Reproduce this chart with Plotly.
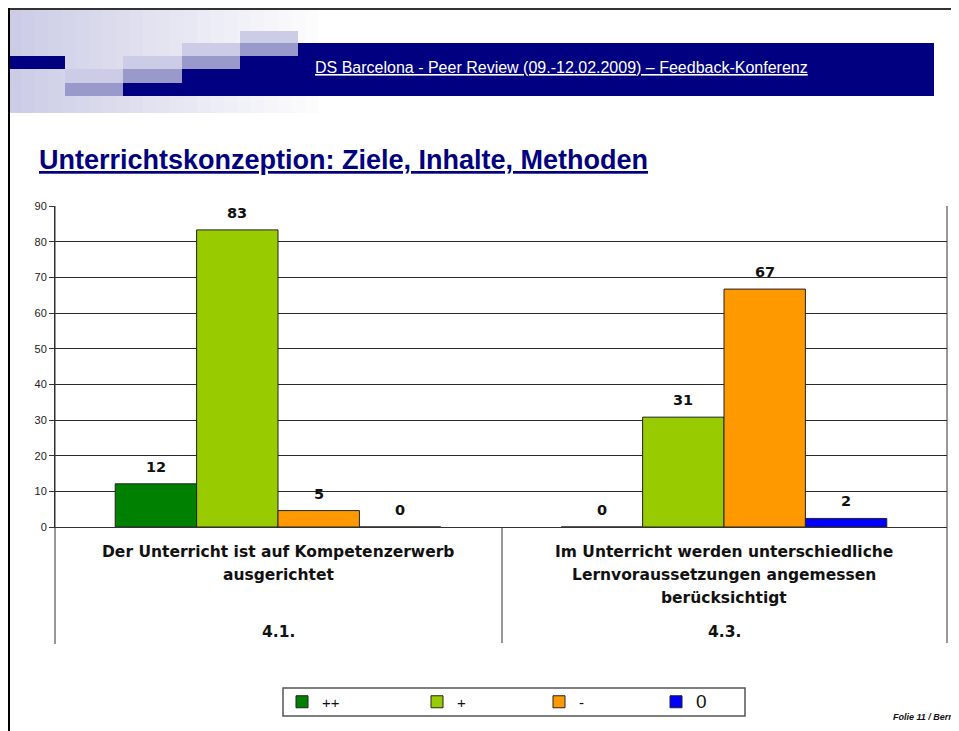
import plotly.graph_objects as go

# ---------------- data ----------------
category_codes = ["4.1.", "4.3."]
category_lines = [
    ["Der Unterricht ist auf Kompetenzerwerb", "ausgerichtet"],
    ["Im Unterricht werden unterschiedliche", "Lernvoraussetzungen angemessen", "berücksichtigt"],
]
series_names = ["++", "+", "-", "0"]
values_pp = [12.1, 0.0]
values_p = [83.3, 30.8]
values_m = [4.6, 66.7]
values_0 = [0.0, 2.4]
y_ticks = [0, 10, 20, 30, 40, 50, 60, 70, 80, 90]

header_text = "DS Barcelona - Peer Review (09.-12.02.2009) – Feedback-Konferenz"
title_text = "Unterrichtskonzeption: Ziele, Inhalte, Methoden"
footer_text = "Folie 11 / Bern"

# ---------------- style ----------------
series_values = [values_pp, values_p, values_m, values_0]
series_colors = ["#008000", "#99CC00", "#FF9900", "#0000FF"]
legend_widths = [90, 77, 72, 60]
OFF = 8                      # page body margin of the html page
W, H = 959 - OFF, 731 - OFF
ML, MR = 55 - OFF, 12
MT = 206 - OFF
MB = H - (527 - OFF)
PW, PH = W - ML - MR, H - MT - MB
BARGAP = 0.27
NAVY = "#000080"
LIGHT = "#CCCCE6"
MED = "#9999CC"
LBL_FONT = "DejaVu Sans"


def px(x):
    """page x (reference pixels) -> paper fraction"""
    return (x - OFF - ML) / PW


def py(y):
    """page y (reference pixels) -> paper fraction"""
    return (H - MB - (y - OFF)) / PH


fig = go.Figure()
for name, vals, col, lw in zip(series_names, series_values, series_colors, legend_widths):
    legend_name = name if name != "0" else "<span style='font-size:19px'>0</span>"
    fig.add_trace(go.Bar(
        x=list(range(len(category_codes))), y=vals, name=legend_name,
        marker=dict(color=col, line=dict(color="#222222", width=1)),
        legendwidth=lw, hoverinfo="skip",
    ))

annotations = []
# value labels above bars
n = len(series_values)
bw = (1 - BARGAP) / n
for i, vals in enumerate(series_values):
    for j, v in enumerate(vals):
        annotations.append(dict(
            x=j - (1 - BARGAP) / 2 + bw * (i + 0.5), y=v, xref="x", yref="y",
            text=f"<b>{v:.0f}</b>", showarrow=False, yshift=17, yanchor="middle",
            xanchor="center",
            font=dict(family=LBL_FONT, size=14.5, color="#111111"),
        ))
# category labels
for j, (lines, code) in enumerate(zip(category_lines, category_codes)):
    for k, line in enumerate(lines):
        annotations.append(dict(
            x=j, y=0, xref="x", yref="paper", yshift=-(25 + 23 * k), yanchor="middle",
            xanchor="center", text=f"<b>{line}</b>", showarrow=False,
            font=dict(family=LBL_FONT, size=15.5, color="#111111"),
        ))
    annotations.append(dict(
        x=j, y=0, xref="x", yref="paper", yshift=-105, yanchor="middle",
        xanchor="center", text=f"<b>{code}</b>", showarrow=False,
        font=dict(family=LBL_FONT, size=15.5, color="#111111"),
    ))
# header, title, footer
annotations.append(dict(
    x=px(561), y=py(68), xref="paper", yref="paper", xanchor="center", yanchor="middle",
    text=f"<u>{header_text}</u>", showarrow=False,
    font=dict(family="Liberation Sans, Arial", size=16, color="white"),
))
annotations.append(dict(
    x=px(37), y=py(160), xref="paper", yref="paper", xanchor="left", yanchor="middle",
    text=f"<b><u>{title_text}</u></b>", showarrow=False,
    font=dict(family="Liberation Sans, Arial", size=27, color=NAVY),
))
annotations.append(dict(
    x=px(956), y=py(717), xref="paper", yref="paper", xanchor="right", yanchor="middle",
    text=f"<b><i>{footer_text}</i></b>", showarrow=False,
    font=dict(family="Liberation Sans, Arial", size=9, color="#111111"),
))

shapes = []


def rect(x0, y0, x1, y1, color, line=None):
    shapes.append(dict(type="rect", xref="paper", yref="paper",
                       x0=px(x0), x1=px(x1), y0=py(y1), y1=py(y0),
                       fillcolor=color, line=dict(width=0) if line is None else line,
                       layer="above"))


def vline(x, y0, y1, color="#333333", width=1):
    shapes.append(dict(type="line", xref="paper", yref="paper",
                       x0=px(x), x1=px(x), y0=py(y0), y1=py(y1),
                       line=dict(color=color, width=width), layer="above"))


# gradient background of the header decoration
N = 24
gx0, gx1 = 8, 332
for s in range(N):
    t = s / (N - 1)
    r = int(204 + (255 - 204) * t)
    b = int(230 + (255 - 230) * t)
    rect(gx0 + (gx1 - gx0) * s / N, 9, gx0 + (gx1 - gx0) * (s + 1) / N + 0.5, 113,
         f"rgb({r},{r},{b})")
# navy band and squares
rect(298, 43, 934, 96, NAVY)
rect(240, 56, 298, 96, NAVY)
rect(182, 69, 240, 96, NAVY)
rect(123, 83, 182, 96, NAVY)
rect(8, 56, 65, 69, NAVY)
rect(240, 31, 298, 43, LIGHT)
rect(240, 43, 298, 56, MED)
rect(182, 43, 240, 56, LIGHT)
rect(182, 56, 240, 69, MED)
rect(123, 56, 182, 69, LIGHT)
rect(123, 69, 182, 83, MED)
rect(65, 69, 123, 83, LIGHT)
rect(65, 83, 123, 96, MED)
# page border (top and left)
shapes.append(dict(type="line", xref="paper", yref="paper", x0=px(8), x1=px(959),
                   y0=py(9), y1=py(9), line=dict(color="#333333", width=2), layer="above"))
vline(9, 8, 731, color="#000000", width=2)
# chart frame lines
vline(55, 206, 644)
vline(502, 527, 643)
vline(947, 206, 643)
# legend box
rect(283, 688, 745, 716, "rgba(0,0,0,0)", line=dict(color="#555555", width=1.5))

fig.update_layout(
    width=W, height=H,
    margin=dict(l=ML, r=MR, t=MT, b=MB, pad=0),
    paper_bgcolor="white", plot_bgcolor="rgba(0,0,0,0)",
    barmode="group", bargap=BARGAP, bargroupgap=0,
    showlegend=True,
    legend=dict(
        orientation="h", xref="paper", yref="paper",
        x=px(282), y=py(702), xanchor="left", yanchor="middle",
        entrywidthmode="pixels",
        font=dict(family="Liberation Sans, Arial", size=15, color="#111111"),
        bgcolor="rgba(0,0,0,0)", borderwidth=0, traceorder="normal",
    ),
    xaxis=dict(
        range=[-0.5, len(category_codes) - 0.5], showticklabels=False, ticks="",
        showgrid=False, zeroline=False, showline=True, linecolor="#333333", linewidth=1,
    ),
    yaxis=dict(
        range=[0, 90], tickvals=y_ticks, ticks="outside", ticklen=5, tickcolor="#333333",
        showgrid=True, gridcolor="#2a2a2a", gridwidth=1, zeroline=False,
        showline=True, linecolor="#333333", linewidth=1,
        tickfont=dict(family="Liberation Sans, Arial", size=11, color="#222222"),
    ),
    annotations=annotations,
    shapes=shapes,
)

fig.write_html("out.html")
